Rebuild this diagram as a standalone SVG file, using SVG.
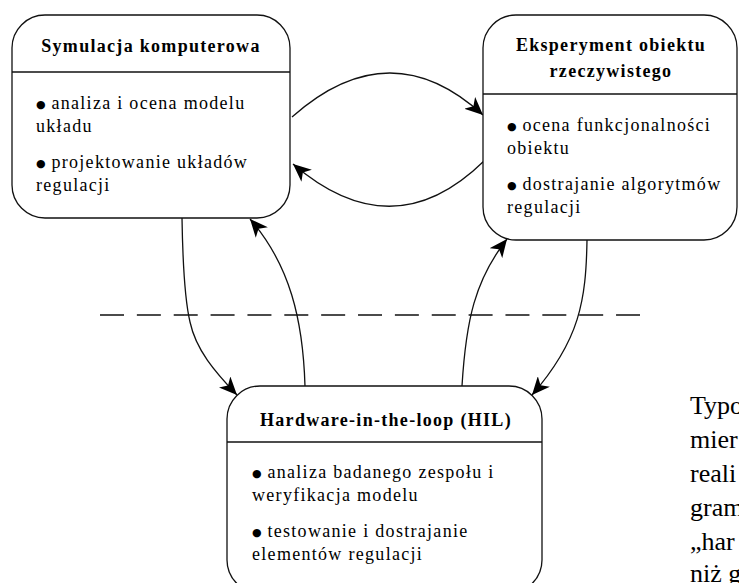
<svg xmlns="http://www.w3.org/2000/svg" width="739" height="583" viewBox="0 0 739 583">
<defs>
<style>
.box{fill:#fff;stroke:#111;stroke-width:1.3}
.dv{stroke:#111;stroke-width:1.3}
.t{font-family:"Liberation Serif","Times New Roman",serif;font-size:18px;fill:#000;letter-spacing:1.3px}
.h{font-weight:bold;text-anchor:middle}
.b{font-family:"DejaVu Sans",sans-serif;font-size:11px;letter-spacing:0}
.con{fill:none;stroke:#111;stroke-width:1.3}
.side{font-family:"Liberation Serif","Times New Roman",serif;font-size:26px;fill:#000}
</style>
<marker id="ah" markerUnits="userSpaceOnUse" markerWidth="20" markerHeight="16" refX="18" refY="8" orient="auto">
<path d="M0,0 L18,8 L0,16 L5,8 z" fill="#000"/>
</marker>
</defs>
<rect width="739" height="583" fill="#fff"/>

<g id="connectors">
<line x1="100" y1="315" x2="640" y2="315" stroke="#111" stroke-width="1.3" stroke-dasharray="24 12.86"/>
<path class="con" d="M292,117 Q390,30 483,115" marker-end="url(#ah)"/>
<path class="con" d="M484,161 Q393,250 293,164" marker-end="url(#ah)"/>
<path class="con" d="M182,218 C183,280 186,305 190,322 C196,350 215,372 237,395" marker-end="url(#ah)"/>
<path class="con" d="M305,386 C303,320 290,265 250,219" marker-end="url(#ah)"/>
<path class="con" d="M462,386 C466,320 475,280 507,239" marker-end="url(#ah)"/>
<path class="con" d="M587,240 C586,300 580,340 532,395" marker-end="url(#ah)"/>
</g>

<g id="symulacja">
<rect class="box" x="12" y="15" width="278" height="203" rx="33"/>
<line class="dv" x1="12" y1="72" x2="290" y2="72"/>
<text class="t h" x="151" y="52">Symulacja komputerowa</text>
<text class="t" x="36" y="109"><tspan class="b" dy="-1">●</tspan><tspan dy="1"> analiza i ocena modelu</tspan></text>
<text class="t" x="36" y="132">układu</text>
<text class="t" x="36" y="168"><tspan class="b" dy="-1">●</tspan><tspan dy="1"> projektowanie układów</tspan></text>
<text class="t" x="36" y="191">regulacji</text>
</g>

<g id="eksperyment">
<rect class="box" x="483" y="15" width="254" height="225" rx="33"/>
<line class="dv" x1="483" y1="94" x2="737" y2="94"/>
<text class="t h" x="611" y="51">Eksperyment obiektu</text>
<text class="t h" x="611" y="77">rzeczywistego</text>
<text class="t" x="507" y="131"><tspan class="b" dy="-1">●</tspan><tspan dy="1"> ocena funkcjonalności</tspan></text>
<text class="t" x="507" y="154">obiektu</text>
<text class="t" x="507" y="190"><tspan class="b" dy="-1">●</tspan><tspan dy="1"> dostrajanie algorytmów</tspan></text>
<text class="t" x="507" y="213">regulacji</text>
</g>

<g id="hil">
<rect class="box" x="227" y="386" width="315" height="207" rx="33"/>
<line class="dv" x1="227" y1="442" x2="542" y2="442"/>
<text class="t h" x="386" y="426">Hardware-in-the-loop (HIL)</text>
<text class="t" x="252" y="478"><tspan class="b" dy="-1">●</tspan><tspan dy="1"> analiza badanego zespołu i</tspan></text>
<text class="t" x="252" y="501">weryfikacja modelu</text>
<text class="t" x="252" y="537"><tspan class="b" dy="-1">●</tspan><tspan dy="1"> testowanie i dostrajanie</tspan></text>
<text class="t" x="252" y="560">elementów regulacji</text>
</g>

<g id="side-text">
<text class="side" x="690" y="414">Typo</text>
<text class="side" x="690" y="448">mier</text>
<text class="side" x="690" y="482">reali</text>
<text class="side" x="690" y="516">gram</text>
<text class="side" x="690" y="550">„har</text>
<text class="side" x="690" y="582">niż g</text>
</g>
</svg>
